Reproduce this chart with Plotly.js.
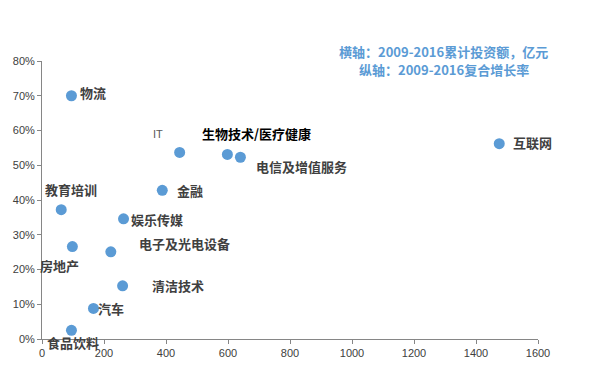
<!DOCTYPE html>
<html><head><meta charset="utf-8">
<script src="https://cdn.plot.ly/plotly-3.0.1.min.js"></script>
<style>html,body{margin:0;padding:0;background:#fff}</style>
</head><body><div id="chart" style="width:594px;height:374px"></div>
<script>
// Data
var industries = ['物流','IT','生物技术/医疗健康','电信及增值服务','互联网','金融','教育培训','娱乐传媒','电子及光电设备','房地产','清洁技术','汽车','食品饮料'];
var investment = [95, 444, 598, 640, 1475, 388, 62, 263, 222, 98, 260, 166, 95];   // 亿元
var cagr = [0.700, 0.537, 0.531, 0.523, 0.562, 0.428, 0.372, 0.346, 0.251, 0.266, 0.153, 0.088, 0.025];
var xTicks = [0,200,400,600,800,1000,1200,1400,1600];
var yTicks = [0,0.1,0.2,0.3,0.4,0.5,0.6,0.7,0.8];
var noteLines = ['横轴：2009-2016累计投资额，亿元','纵轴：2009-2016复合增长率'];

// label placement (pixel offsets from the point)
var labelStyle = [
  {xs:7, ys:3, xa:'left'},
  {xs:-22, ys:18, xa:'center', small:true},
  {xs:29, ys:21, xa:'center', black:true},
  {xs:14, ys:-9, xa:'left'},
  {xs:12, ys:1, xa:'left'},
  {xs:13, ys:0, xa:'left'},
  {xs:10, ys:20, xa:'center'},
  {xs:5, ys:-1, xa:'left'},
  {xs:26, ys:8, xa:'left'},
  {xs:-13, ys:-19, xa:'center'},
  {xs:27, ys:0, xa:'left'},
  {xs:3, ys:0, xa:'left'},
  {xs:2, ys:-12, xa:'center'}
];

var cjk = '"Noto Sans CJK SC", "Noto Sans", sans-serif';
var annotations = industries.map(function(name, i){
  var s = labelStyle[i];
  return {
    x: investment[i], y: cagr[i], xref:'x', yref:'y', showarrow:false,
    text: s.small ? name : '<b>'+name+'</b>',
    xanchor: s.xa, yanchor:'middle', xshift: s.xs, yshift: s.ys,
    font: s.small ? {family:'"Liberation Sans", Arial, sans-serif', size:11, color:'#595959'}
                  : {family: cjk, size:13, color: s.black ? '#000000' : '#404040'}
  };
});
var noteY = [1.034, 0.970];
noteLines.forEach(function(line, i){
  annotations.push({
    xref:'paper', yref:'paper', x:0.81, y:noteY[i], xanchor:'center', yanchor:'middle',
    showarrow:false, text:'<b>'+line+'</b>',
    font:{family: cjk, size:13, color:'#5B9BD5'}
  });
});

var trace = {
  type:'scatter', mode:'markers', x: investment, y: cagr,
  marker:{size:11, color:'#5B9BD5', line:{width:0}},
  hoverinfo:'skip'
};

var layout = {
  width:594, height:374,
  margin:{l:42, r:56, t:61, b:35},
  paper_bgcolor:'#ffffff', plot_bgcolor:'#ffffff',
  showlegend:false,
  xaxis:{
    range:[0,1600], tickvals:xTicks, ticktext:xTicks.map(String),
    showgrid:false, zeroline:false, showline:true, linecolor:'#868686', linewidth:1,
    ticks:'outside', ticklen:4, tickcolor:'#868686',
    tickfont:{family:'"Liberation Sans", Arial, sans-serif', size:11, color:'#404040'}
  },
  yaxis:{
    range:[0,0.8], tickvals:yTicks, tickformat:'.0%',
    showgrid:false, zeroline:false, showline:true, linecolor:'#868686', linewidth:1,
    ticks:'outside', ticklen:4, tickcolor:'#868686',
    tickfont:{family:'"Liberation Sans", Arial, sans-serif', size:11, color:'#404040'}
  },
  annotations: annotations
};

Plotly.newPlot('chart', [trace], layout, {staticPlot:true, displayModeBar:false});
</script></body></html>
